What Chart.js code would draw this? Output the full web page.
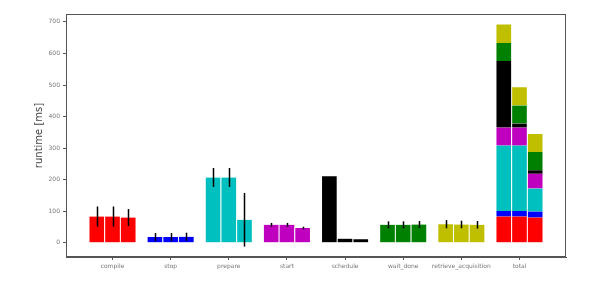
<!DOCTYPE html>
<html>
<head>
<meta charset="utf-8">
<script src="https://cdn.jsdelivr.net/npm/chart.js@4"></script>
<style>
  html, body { margin: 0; padding: 0; background: #fff; }
  #wrap { width: 598px; height: 283px; }
</style>
</head>
<body>
<div id="wrap"><canvas id="runtimeChart"></canvas></div>
<script>
// categories on the x axis (last one is the stacked total)
const categories = ['compile', 'stop', 'prepare', 'start', 'schedule', 'wait_done', 'retrieve_acquisition', 'total'];
const yTicks = [0, 100, 200, 300, 400, 500, 600, 700];

// mean runtime per step, one entry per run (3 runs)
const compileMs = [83, 83, 80];
const stopMs = [18, 18, 19];
const prepareMs = [207, 207, 73];
const startMs = [57, 57, 47];
const scheduleMs = [211, 13, 11];
const waitDoneMs = [57, 57, 58];
const retrieveMs = [59, 58, 57];

// std dev per step / run
const compileErr = [32, 32, 27];
const stopErr = [13, 13, 13];
const prepareErr = [30, 30, 85];
const startErr = [6, 6, 4];
const scheduleErr = [0, 0, 0];
const waitDoneErr = [11, 11, 11];
const retrieveErr = [13, 12, 12];

const steps = [
  { values: compileMs, errs: compileErr, color: '#ff0000' },
  { values: stopMs, errs: stopErr, color: '#0000ff' },
  { values: prepareMs, errs: prepareErr, color: '#00bfbf' },
  { values: startMs, errs: startErr, color: '#bf00bf' },
  { values: scheduleMs, errs: scheduleErr, color: '#000000' },
  { values: waitDoneMs, errs: waitDoneErr, color: '#008000' },
  { values: retrieveMs, errs: retrieveErr, color: '#bfbf00' },
];

const runOffset = [-0.27, 0, 0.27];
const totalIdx = categories.length - 1;

// one dataset per step: its own 3 bars + its slice of the 3 total bars
const datasets = steps.map((s, i) => {
  const pts = [];
  s.values.forEach((v, r) => pts.push({ x: i + runOffset[r], y: v }));
  s.values.forEach((v, r) => pts.push({ x: totalIdx + runOffset[r], y: v }));
  return {
    label: categories[i],
    data: pts,
    backgroundColor: s.color,
    borderColor: 'rgba(255,255,255,0.75)',
    borderWidth: { left: 1, right: 1, top: 0, bottom: 0 },
    borderSkipped: false,
    stack: 'all',
    barThickness: 16,
  };
});

// error bars + full frame
const extras = {
  id: 'extras',
  afterDatasetsDraw(chart) {
    const ctx = chart.ctx;
    const xs = chart.scales.x, ys = chart.scales.y;
    ctx.save();
    ctx.strokeStyle = '#000';
    ctx.lineWidth = 1.5;
    steps.forEach((s, i) => {
      s.values.forEach((v, r) => {
        const e = s.errs[r];
        if (!e) return;
        const px = Math.round(xs.getPixelForValue(i + runOffset[r])) + 0.5;
        ctx.beginPath();
        ctx.moveTo(px, ys.getPixelForValue(v - e));
        ctx.lineTo(px, ys.getPixelForValue(v + e));
        ctx.stroke();
      });
    });
    const a = chart.chartArea;
    ctx.strokeStyle = '#555';
    ctx.lineWidth = 1;
    ctx.strokeRect(a.left + 0.5, a.top + 0.5, a.right - a.left - 1, a.bottom - a.top - 1);
    ctx.restore();
  }
};

new Chart(document.getElementById('runtimeChart'), {
  type: 'bar',
  data: { datasets: datasets },
  options: {
    responsive: true,
    maintainAspectRatio: false,
    animation: false,
    layout: { padding: { left: 0, right: 32, top: 14, bottom: 0 } },
    plugins: {
      legend: { display: false },
      tooltip: { enabled: false },
    },
    scales: {
      x: {
        type: 'linear',
        offset: false,
        min: -0.8,
        max: 7.8,
        afterBuildTicks: (scale) => { scale.ticks = categories.map((c, i) => ({ value: i })); },
        afterFit: (scale) => { scale.height = 26; },
        ticks: {
          callback: (v) => categories[v],
          color: '#777',
          font: { family: 'DejaVu Sans', size: 6 },
          padding: 3,
          maxRotation: 0,
          autoSkip: false,
        },
        grid: { drawOnChartArea: false, offset: false, tickLength: 3, color: '#555' },
        border: { display: true, color: '#555' },
      },
      y: {
        stacked: true,
        min: -45,
        max: 725,
        afterBuildTicks: (scale) => { scale.ticks = yTicks.map(v => ({ value: v })); },
        afterFit: (scale) => { scale.width = 66; },
        ticks: {
          color: '#777',
          font: { family: 'DejaVu Sans', size: 6 },
          padding: 3,
        },
        grid: { drawOnChartArea: false, tickLength: 3, color: '#555' },
        border: { display: true, color: '#555' },
        title: {
          display: true,
          text: 'runtime [ms]',
          color: '#444',
          font: { family: 'DejaVu Sans', size: 10 },
          padding: { top: 33, bottom: 0 },
        },
      },
    },
  },
  plugins: [extras],
});
</script>
</body>
</html>
